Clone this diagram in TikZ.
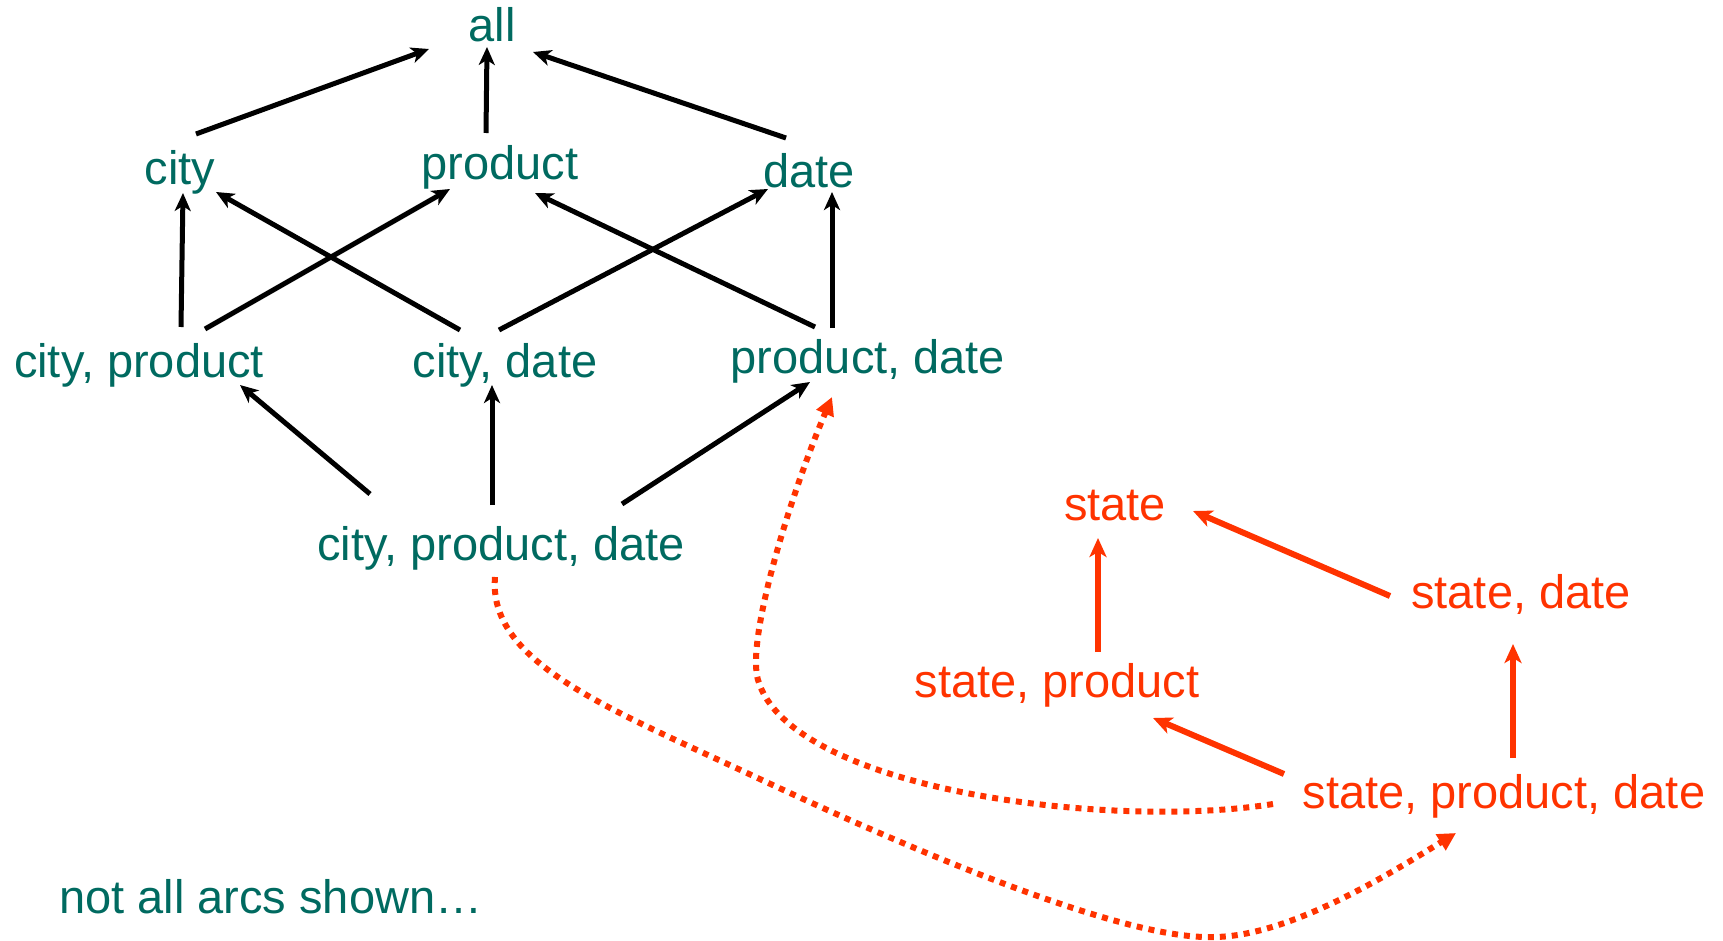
\documentclass[tikz,border=0pt]{standalone}
\usepackage{fontspec}
\setmainfont{Liberation Sans}
\usetikzlibrary{arrows.meta}
\definecolor{tealc}{RGB}{0,106,96}
\definecolor{redc}{RGB}{255,51,0}
\begin{document}
\begin{tikzpicture}[x=1pt,y=-1pt,
  lbl/.style={inner sep=0pt, anchor=base, font=\fontsize{47pt}{56pt}\selectfont},
  tl/.style={lbl, text=tealc},
  rl/.style={lbl, text=redc},
  blk/.style={line width=5pt, -{Stealth[length=18pt,width=16pt,inset=5pt]}},
  redarr/.style={draw=redc, line width=6pt, -{Stealth[length=19pt,width=17pt,inset=5pt]}},
  dotarr/.style={draw=redc, line width=6pt, dash pattern=on 6pt off 6pt, -{Triangle[length=18pt,width=18pt]}}]
\useasboundingbox (0,0) rectangle (1723,941);
% nodes
\node[tl] (all) at (492,42) {all};
\node[tl] (city) at (180,185) {city};
\node[tl] (prod) at (500,180) {product};
\node[tl] (date) at (809,188) {date};
\node[tl] (cp) at (139,377) {city, product};
\node[tl] (cd) at (505,377) {city, date};
\node[tl] (pd) at (868,373) {product, date};
\node[tl] (cpd) at (501,560) {city, product, date};
\node[rl] (st) at (1115,520) {state};
\node[rl] (sd) at (1521,608) {state, date};
\node[rl] (sp) at (1057,697) {state, product};
\node[rl] (spd) at (1504,808) {state, product, date};
\node[tl, anchor=base west] (note) at (59,913) {not all arcs shown…};
% connector end points
\coordinate (all-l) at (429,49);
\coordinate (all-m) at (487,47);
\coordinate (all-r) at (533,52);
\coordinate (city-t) at (196,134);
\coordinate (city-b) at (183,193);
\coordinate (city-br) at (216,192);
\coordinate (prod-t) at (486,133);
\coordinate (prod-bl) at (450,189);
\coordinate (prod-br) at (535,193);
\coordinate (date-t) at (786,138);
\coordinate (date-bl) at (768,189);
\coordinate (date-b) at (832,192);
\coordinate (cp-t) at (181,327);
\coordinate (cp-tr) at (205,329);
\coordinate (cp-b) at (240,385);
\coordinate (cd-tl) at (460,330);
\coordinate (cd-tr) at (499,330);
\coordinate (cd-b) at (492,385);
\coordinate (pd-tl) at (815,327);
\coordinate (pd-t) at (832,328);
\coordinate (pd-bl) at (810,382);
\coordinate (pd-b) at (832,397);
\coordinate (cpd-tl) at (370,494);
\coordinate (cpd-t) at (492,505);
\coordinate (cpd-tr) at (622,504);
\coordinate (cpd-b) at (495,577);
\coordinate (st-b) at (1098,538);
\coordinate (st-r) at (1193,511);
\coordinate (sp-t) at (1098,652);
\coordinate (sp-br) at (1153,718);
\coordinate (sd-l) at (1390,596);
\coordinate (sd-b) at (1513,644);
\coordinate (spd-tl) at (1284,774);
\coordinate (spd-t) at (1513,758);
\coordinate (spd-l) at (1273,804);
\coordinate (spd-bl) at (1456,833);
% black arcs
\draw[blk] (city-t) -- (all-l);
\draw[blk] (prod-t) -- (all-m);
\draw[blk] (date-t) -- (all-r);
\draw[blk] (cp-t) -- (city-b);
\draw[blk] (cp-tr) -- (prod-bl);
\draw[blk] (cd-tl) -- (city-br);
\draw[blk] (cd-tr) -- (date-bl);
\draw[blk] (pd-tl) -- (prod-br);
\draw[blk] (pd-t) -- (date-b);
\draw[blk] (cpd-tl) -- (cp-b);
\draw[blk] (cpd-t) -- (cd-b);
\draw[blk] (cpd-tr) -- (pd-bl);
% red arcs
\draw[redarr] (sp-t) -- (st-b);
\draw[redarr] (sd-l) -- (st-r);
\draw[redarr] (spd-tl) -- (sp-br);
\draw[redarr] (spd-t) -- (sd-b);
% dotted mapping arcs
\draw[dotarr] (spd-l) .. controls (1110,830) and (790,790) .. (758,680)
  .. controls (746,640) and (789.5,497) .. (pd-b);
\draw[dotarr] (cpd-b) .. controls (488,660) and (600,705) .. (747,773)
  .. controls (900,845) and (1120,940) .. (1213,937)
  .. controls (1290,937) and (1394,871) .. (spd-bl);
\end{tikzpicture}
\end{document}
